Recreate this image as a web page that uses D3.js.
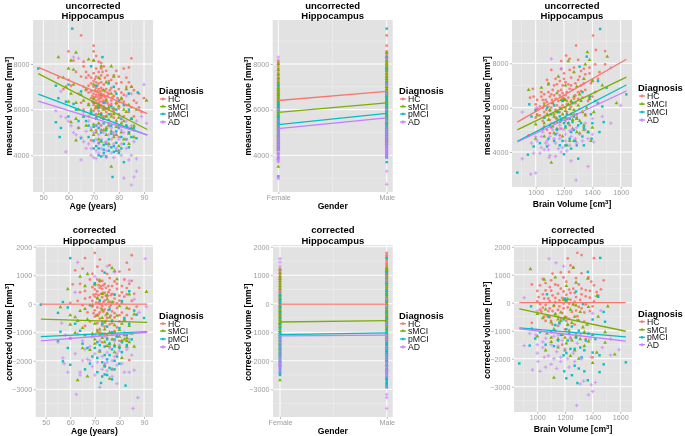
<!DOCTYPE html>
<html><head><meta charset="utf-8">
<script src="https://cdnjs.cloudflare.com/ajax/libs/d3/7.8.5/d3.min.js"></script>
<style>html,body{margin:0;padding:0;background:#fff}svg{display:block;font-family:"Liberation Sans",Arial,sans-serif;filter:blur(0.3px)}</style>
</head><body><svg id="c" width="685" height="436"></svg>
<script>
const groups=["HC","sMCI","pMCI","AD"];
const colors=["#F8766D","#7CAE00","#00BFC4","#C77CFF"];
const genders=["Female","Male"];

// age vs measured volume
const ageMeasuredHC=[[65,9250],[70,8800],[60,8550],[70,8550],[71,8350],[85,8250],[62,8150],[66,8100],[70,8150],[72,8100],[73,8050],[66,7900],[74,7900],[71,7800],[73,7800],[75,7700],[72,7650],[79,7700],[82,7800],[84,7850],[65,7450],[67,7400],[69,7400],[71,7450],[73,7500],[80,7450],[83,7400],[70,7250],[71,7200],[72,7150],[73,7200],[74,7100],[76,7250],[79,7150],[84,7200],[56,7400],[60,7300],[66,7000],[68,7050],[70,7000],[71,6950],[72,6900],[73,6950],[75,6900],[77,6950],[80,6900],[85,7000],[64,6700],[68,6750],[70,6700],[71,6650],[72,6650],[73,6700],[74,6650],[76,6700],[78,6600],[82,6650],[84,6700],[88,6700],[69,6500],[70,6450],[71,6400],[72,6450],[73,6500],[74,6400],[75,6450],[77,6400],[81,6450],[86,6400],[90,6500],[68,6250],[70,6200],[71,6150],[72,6250],[73,6200],[74,6150],[76,6200],[79,6250],[83,6200],[87,6300],[70,5950],[72,5950],[73,5850],[75,5900],[78,5950],[84,5900],[74,5700],[78,5650],[82,5700],[76,5400],[80,5300],[64,5200],[71,5100],[78,4900],[80,4800],[84,5000],[69,4650],[73,5300],
[67,7650],[68,7500],[69,7150],[70,7600],[70.5,7350],[71.5,7050],[72.5,7350],[73.5,7650],[74.5,7400],[75.5,7500],[77,7300],[78,7500],[81,7200],[83,7000],[67,6850],[69,6800],[70.5,6850],[71.5,6800],[72.5,6800],[73.5,6850],[74.5,6800],[75.5,6750],[76.5,6850],[78.5,6800],[81,6750],[86,6850],[69.5,6600],[70.5,6550],[71.5,6550],[72.5,6550],[73.5,6600],[74.5,6550],[75.5,6600],[77.5,6550],[79.5,6500],[69.5,6350],[70.5,6300],[71.5,6300],[72.5,6350],[73.5,6350],[74.5,6300],[75.5,6300],[77,6250],[80,6350],[82,6350],[70.5,6050],[71.5,6050],[72.5,6100],[73.5,6050],[74.5,6050],[76,6000],[77.5,6050],[80,6050],[85,6100],[71,5800],[73,5650],[75,5700],[77,5800],[80,5800],[86,5700],[68,5700],[66,6000],[63,7650],[61,7050],[58,6900],[65,6300],[88,6100],[89,5900]];
const ageMeasuredsMCI=[[56,8300],[63,8500],[61,8150],[60,7800],[62,7750],[68,8200],[70,8150],[73,7900],[77,7900],[58,7400],[59,7000],[62,7100],[61,6700],[65,6650],[67,6900],[70,7100],[72,7400],[75,7200],[78,7450],[83,6900],[85,7000],[91,6400],[60,6350],[63,6300],[70,6500],[72,6200],[74,6000],[75,6400],[77,6700],[79,6300],[81,6500],[84,6200],[87,6000],[61,5450],[63,5600],[66,5700],[69,5800],[71,5650],[73,5750],[75,5700],[76,5550],[78,5800],[80,5650],[82,5500],[85,5600],[86,5300],[64,5200],[72,5400],[74,5100],[76,5300],[79,5250],[81,5000],[84,4950],[86,4800],[63,4650],[70,4900],[73,4600],[75,4900],[78,4800],[80,4400],[84,4500],[80,4200],[77,3500],
[66,6400],[68,6200],[69,6000],[71,6100],[73,6650],[74,6850],[76,6100],[78,6050],[80,6150],[82,6000],[83,5900],[70,5350],[72,5800],[74,5600],[77,5700],[79,5500],[81,5400],[83,5300],[85,5200],[71,5000],[73,5100],[75,5200],[77,5050],[79,4900],[82,4700],[64,6000],[67,5300],[69,5100],[72,4700],[76,4500]];
const ageMeasuredpMCI=[[61.5,9550],[48,7800],[73.5,8300],[69,7900],[60,7100],[55,7050],[65,6800],[71,7050],[59,6350],[62,6250],[56,6500],[76,7150],[78,7000],[79,6700],[84,6700],[87.5,6750],[63,6000],[66,5700],[69,5900],[71,5600],[73,5800],[76,5800],[79,6000],[81,5600],[85,5600],[55,5450],[60,5700],[57,5200],[64,5500],[68,5300],[70,5250],[72,5200],[74,5400],[77,5300],[80,5200],[83,5300],[86,5200],[56.5,4800],[65,4750],[68,4800],[70,4650],[71,4400],[72,4300],[73,4650],[74,4100],[75,4500],[76,4200],[78,4400],[79,4550],[80,4100],[81,4300],[83,4700],[85,4800],[87,4750],[72,4000],[73,3950],[75,3950],[78,4150],[82,3700],[77.5,3050],
[70,6300],[72,6100],[74,6300],[75,6050],[77,6150],[80,6400],[82,6200],[84,6000],[67,5500],[71,5300],[73,5000],[75,5100],[77,4950],[79,5050],[81,4800],[84,5000],[70,4300],[72,4550],[74,4450],[76,4700],[77,4350],[79,4200],[82,4500],[84,4350],[74,4250]];
const ageMeasuredAD=[[64,8250],[62,8300],[57,6800],[55,5950],[57,5700],[59,5650],[60,5500],[61,5300],[59,4150],[62,5000],[63,4900],[64,5200],[65,4800],[65,3800],[66,4600],[67,4300],[68,4500],[69,4300],[69,4000],[70,5000],[70,4600],[70,3900],[71,4200],[71,5300],[71,3850],[72,4900],[72,4500],[72,4100],[73,5100],[73,4700],[73,4300],[74,4000],[74,5400],[75,4600],[75,4200],[75,3900],[76,4900],[76,5300],[76,4400],[77,4100],[77,4700],[78,4500],[78,5000],[78,3900],[79,4300],[79,4900],[80,4200],[80,4700],[80,5200],[81,4000],[81,4500],[82,3000],[82,5000],[83,4300],[83,4700],[84,3800],[84,5200],[85,4000],[85,2700],[86,3050],[86,4600],[87,3850],[87,3300],[87,5500],[89,5700],[90,7100],[91,5400],[75,6300],[78,6000],[83,6600],[85,6700],[88,6000],[66,5900],[70,5800],[81,5600],[68,5500],
[74,5000],[74.5,4550],[72.5,5350],[77,5200],[79,5400],[81,5100],[83,5500],[85,5300],[86,5100],[71,4700],[69,5200],[67,5050]];

// age vs corrected volume
const ageCorrectedHC=[[70,1780],[85,1700],[66,1600],[72,1550],[76,1350],[83,1440],[62,1170],[65,1230],[71,1300],[73,1150],[69,1050],[75,1050],[80,1130],[84,1200],[61,680],[68,850],[71,850],[72,780],[73,800],[74,700],[76,900],[78,780],[82,850],[85,800],[60,30],[64,400],[66,450],[69,580],[70,500],[71,440],[72,560],[73,520],[74,380],[76,480],[77,350],[79,520],[81,400],[83,550],[88,560],[63,100],[66,180],[68,220],[69,100],[70,250],[71,180],[72,80],[73,230],[74,110],[75,250],[76,70],[78,180],[80,110],[82,250],[85,100],[69,-100],[70,-230],[71,-130],[72,-300],[73,-80],[74,-200],[75,-350],[76,-110],[77,-270],[79,-150],[81,-310],[84,-180],[87,-100],[70,-450],[72,-520],[73,-620],[75,-500],[77,-680],[78,-480],[82,-600],[68,-620],[66,-780],[74,-800],[79,-830],[85,-520],[72,-1000],[75,-1200],[77,-1080],[73,-1350],[80,-1300],[84,-1980],[76,-1500],
[70,650],[71.5,650],[72.5,620],[73.5,640],[74.5,560],[75.5,620],[77,620],[79,700],[81,620],[84,700],[69.5,320],[70.5,350],[71.5,300],[72.5,350],[73.5,380],[74.5,280],[75.5,400],[76.5,300],[78,320],[80,280],[83,330],[70.5,40],[71.5,20],[72.5,-20],[73.5,50],[74.5,-30],[75.5,50],[76.5,-40],[77.5,60],[79,10],[81,20],[69.5,-330],[70.5,-400],[71.5,-370],[72.5,-160],[73.5,-280],[74.5,-410],[75.5,-220],[76.5,-420],[78,-330],[80,-400],[83,-400],[71,-680],[73,-760],[74.5,-600],[76,-720],[80,-620],[71,-920],[74,-1050],[78,-960],[67,-300],[65,-50],[86,350],[64,700]];
const ageCorrectedsMCI=[[59,510],[64,950],[66,620],[67,1040],[70,700],[72,820],[77,1250],[78,1150],[79,860],[84,330],[91,420],[56,-120],[60,-400],[62,-470],[64,-250],[66,-180],[69,-50],[71,200],[73,-220],[75,300],[77,50],[80,-80],[83,-150],[86,-370],[60,-730],[63,-600],[65,-850],[67,-550],[70,-700],[72,-900],[74,-650],[76,-480],[78,-750],[80,-920],[82,-560],[84,-780],[62,-1020],[66,-1100],[69,-1050],[71,-980],[73,-1200],[75,-1080],[77,-1250],[79,-1130],[81,-1300],[83,-1200],[85,-1050],[86,-1500],[65,-1560],[68,-1620],[70,-1400],[72,-1680],[75,-1480],[78,-1700],[81,-1900],[74,-2150],[77,-2300],[76,-2630],[63,-2680],[67,-2550],
[71,-420],[73,-500],[75,-350],[77,-600],[79,-420],[81,-700],[74,-900],[76,-1000],[78,-1000],[80,-1150],[82,-1250],[84,-1350],[70,-1250],[72,-1100],[74,-1350],[76,-1400],[78,-1450],[80,-1500],[83,-1500],[82,-1100],[83,-1300],[75,150],[73,350]];
const ageCorrectedpMCI=[[60,1600],[48,-30],[55,-320],[57,60],[59,-130],[56,-980],[62,-700],[64,-950],[74,1090],[70,720],[78,320],[84,440],[86,-240],[68,-50],[72,120],[76,-200],[81,90],[87,-380],[90,-500],[55,-1300],[59,-1550],[57,-2020],[60,-1220],[60,-2140],[65,-1400],[67,-1550],[69,-1150],[71,-1350],[73,-1050],[75,-1250],[77,-1000],[79,-1150],[81,-1350],[83,-1100],[85,-1250],[69,-1850],[71,-1900],[72,-1650],[73,-2050],[74,-1800],[75,-1950],[77,-1600],[79,-1850],[81,-1700],[71,-2400],[73,-2550],[74,-2480],[76,-2250],[78,-2000],[80,-2100],[72.5,-2780],[77,-2650],[82.5,-2870],[66,-2300],[68,-2100],
[73,-700],[75,-800],[77,-600],[80,-850],[82,-500],[84,-700],[70,-1550],[72,-1450],[74,-1500],[76,-1400],[78,-1500],[80,-1550],[83,-1450],[76,-1800],[78,-2300],[75,-2500],[74,-2200],[78,-1250]];
const ageCorrectedAD=[[63,1450],[90.5,1580],[75,1310],[62,400],[70,950],[78,1100],[84,800],[88,-300],[91,-100],[86,150],[56.5,-680],[55,-1350],[58,-1100],[60,-1200],[63,-1050],[65,-1300],[68,-1500],[70,-1100],[72,-1300],[74,-1150],[57,-1900],[57.5,-2100],[59,-2400],[62,-1750],[65,-2000],[67,-1950],[69,-2200],[71,-2050],[73,-1850],[75,-1700],[77,-2000],[79,-1750],[81,-2100],[83,-1600],[85,-1800],[64,-2400],[64,-2500],[70,-2500],[72,-2930],[75,-2350],[77,-2550],[79,-2800],[82,-2400],[84,-2400],[86,-2330],[62.5,-3180],[87.5,-3290],[85.5,-3670],[78,-1300],[80,-1450],[82,-1000],[84,-1250],
[72,-1650],[74,-2100],[76,-1550],[78,-1850],[80,-1650],[73,-2300],[75,-2050],[77,-2300],[79,-2150],[70,-1750],[68,-2000],[66,-1600]];

// brain volume vs measured volume
const brainMeasuredHC=[[1405,9250],[1285,8800],[1425,8600],[1490,8550],[1215,8350],[1240,8200],[1180,8100],[1300,8150],[1420,7950],[1380,7800],[1490,7950],[1270,7800],[1110,7700],[1180,7750],[1240,7700],[1320,7650],[1450,7600],[1080,7250],[1140,7300],[1200,7300],[1250,7350],[1310,7400],[1350,7500],[1400,7250],[1090,7100],[1150,7050],[1190,7000],[1230,7050],[1280,7100],[1320,7000],[1390,7100],[980,6850],[1040,6700],[1090,6700],[1120,6800],[1160,6750],[1190,6650],[1220,6700],[1260,6800],[1300,6700],[1350,6800],[1420,6700],[960,6450],[1040,6500],[1070,6350],[1100,6500],[1140,6400],[1170,6550],[1200,6350],[1230,6450],[1270,6400],[1330,6450],[1000,6150],[1030,6050],[1060,6200],[1090,6050],[1120,6200],[1150,6100],[1190,6100],[1220,6150],[1280,6200],[1370,6300],[1000,5850],[1030,5650],[1060,5800],[1100,5850],[1130,5700],[1170,5800],[1220,5800],[1270,5700],[1000,5550],[1050,5400],[1100,5450],[1140,5550],[1210,5400],[1060,5150],[1110,5100],[1180,5050],[1240,5200],[950,4750],[1100,4850],[1170,4750],
[1130,7000],[1170,7200],[1210,7150],[1250,7000],[1300,7250],[1340,7100],[1380,7550],[1060,6600],[1110,6600],[1130,6550],[1180,6800],[1210,6550],[1240,6850],[1280,6550],[1320,6750],[1380,6500],[1010,6350],[1050,6350],[1080,6250],[1115,6350],[1160,6300],[1190,6450],[1220,6300],[1250,6250],[1300,6400],[1400,6500],[1015,5950],[1050,6000],[1075,5900],[1110,6000],[1140,5900],[1170,6000],[1210,6000],[1250,6050],[1310,5950],[1060,5550],[1090,5650],[1150,5350],[1190,5500],[1290,5550],[1350,5700],[985,6500],[1010,5700],[1200,7550],[1340,7750],[1440,7300],[1080,5000],[1130,5300]];
const brainMeasuredsMCI=[[950,6800],[1365,8500],[1505,8300],[1380,8150],[1230,8100],[1350,7950],[1270,7600],[1160,7400],[1040,6900],[1090,7050],[1210,7000],[1290,6950],[1340,7300],[1400,7200],[1470,7000],[1150,6650],[1200,6400],[1250,6300],[1310,6600],[1380,6400],[1440,6200],[1570,6200],[1060,6100],[1120,6200],[1180,5950],[1240,5950],[1300,6100],[1360,6000],[1010,5650],[1080,5700],[1130,5600],[1190,5700],[1250,5700],[1290,5500],[1350,5650],[1410,5800],[1000,5250],[1060,5300],[1120,5150],[1170,5350],[1230,5300],[1290,5500],[1340,5000],[1400,5100],[1000,4600],[1060,4700],[1130,4850],[1190,4700],[1290,4900],[1340,5200],[1390,4500],[1110,3520],[1220,4300],[1280,4500],
[1180,6350],[1190,6300],[1210,6350],[1230,6150],[1270,6500],[1320,6300],[1100,5900],[1150,5800],[1210,5850],[1270,5900],[1330,5800],[1090,5450],[1150,5500],[1210,5550],[1260,5450],[1310,5400],[1150,5050],[1210,5100],[1260,5050],[1310,4850],[1370,4900],[1240,4500]];
const brainMeasuredpMCI=[[1455,9550],[1360,8300],[1310,7850],[1440,7200],[1500,6900],[1640,6600],[955,6150],[970,5600],[1000,5900],[1080,6000],[1130,6100],[1190,6300],[1260,6200],[1330,6700],[1380,6500],[1420,6300],[1470,6050],[1060,5550],[1110,5700],[1160,5800],[1220,5500],[1270,5600],[1320,5300],[1390,5700],[1480,5350],[1050,5050],[1100,5200],[1150,5000],[1200,5300],[1250,4900],[1300,5200],[1370,4900],[1450,4900],[1030,4400],[1090,4600],[1140,4800],[1190,4500],[1240,4600],[1290,4300],[1340,4300],[1395,4600],[945,3880],[985,4250],[1080,4250],[1170,4300],[1200,3900],[1250,4150],[1300,3700],[870,3070],
[1170,5600],[1220,5700],[1230,5300],[1240,5500],[1260,5350],[1290,5700],[1180,5450],[1210,5150],[1270,5000],[1340,5100],[1400,5300],[1130,4500],[1210,4300],[1270,4500],[1330,4700]];
const brainMeasuredAD=[[1110,8200],[1180,7750],[1530,7800],[905,5800],[1005,6000],[1600,6100],[1530,5300],[1470,5600],[1400,5500],[1440,6200],[1060,5600],[1110,5300],[1170,5200],[1230,5500],[1290,5100],[1350,5300],[1050,4900],[1100,4700],[1150,4850],[1200,5000],[1250,4700],[1310,4800],[1370,4600],[1410,4450],[970,4400],[1010,4500],[1040,4200],[1090,4300],[1140,4400],[1190,4200],[1240,4300],[1290,4400],[985,3950],[1030,3950],[1060,4100],[1100,3850],[1140,3800],[1180,4000],[1250,3600],[905,3700],[1095,3750],[1370,3350],[1000,3050],[965,3000],[1285,2730],
[1130,4600],[1170,4600],[1210,4500],[1260,5000],[1280,4600],[1330,4500],[1120,5000],[1070,4400],[1080,4500],[1170,5050],[1240,4950],[1210,4800],[1350,5000],[1400,4800],[1040,4700],[1000,4700],[1090,4100],[1160,4150],[1220,4050]];

// brain volume vs corrected volume
const brainCorrectedHC=[[1290,1780],[1320,1700],[1410,1590],[1220,1580],[1240,1330],[1260,1250],[960,650],[1040,850],[1110,1040],[1170,1080],[1230,1100],[1320,1050],[1370,900],[1480,800],[1000,420],[1020,620],[1060,700],[1090,560],[1130,650],[1170,500],[1210,750],[1260,500],[1300,650],[1350,450],[1410,620],[1460,480],[1010,200],[1040,300],[1080,150],[1110,260],[1150,320],[1180,170],[1210,280],[1240,110],[1280,200],[1320,300],[1380,180],[1440,260],[1020,-50],[1060,-80],[1090,-200],[1130,20],[1160,-130],[1190,-30],[1220,-170],[1260,-60],[1300,-150],[1350,-60],[1400,-130],[1030,-320],[1070,-450],[1110,-300],[1150,-500],[1180,-370],[1210,-520],[1250,-330],[1290,-480],[1340,-350],[960,-720],[1060,-650],[1110,-780],[1160,-700],[1210,-650],[1270,-780],[1340,-680],[1130,-1000],[1200,-950],[1280,-1100],[1350,-1300],[1240,-1250],[1400,-1950],[1180,-1500],
[1060,440],[1100,430],[1150,620],[1190,400],[1230,470],[1270,350],[1320,500],[1380,420],[1430,380],[1050,150],[1090,60],[1130,170],[1160,80],[1200,90],[1240,350],[1270,30],[1310,100],[1350,230],[1410,50],[1040,-180],[1080,-300],[1120,-120],[1150,-260],[1190,-200],[1230,-30],[1280,-280],[1320,-200],[1380,-300],[1050,-500],[1090,-520],[1130,-430],[1170,-560],[1230,-580],[1290,-620],[1100,-650],[1150,-830],[1220,-800],[1020,-250],[1000,50],[1100,800],[1190,900],[1280,880],[1390,750]];
const brainCorrectedsMCI=[[950,1200],[1260,1250],[1365,860],[1050,820],[1130,900],[1210,600],[1280,720],[1430,240],[1510,-130],[1000,-400],[1060,-240],[1120,-100],[1170,-350],[1220,130],[1260,-60],[1310,-330],[1370,-150],[1040,-550],[1100,-700],[1150,-600],[1200,-510],[1250,-720],[1300,-640],[1360,-780],[1440,-500],[1000,-1200],[1070,-1100],[1120,-950],[1180,-1150],[1230,-1000],[1280,-1200],[1340,-1050],[1400,-1150],[1490,-1050],[1060,-1700],[1100,-1400],[1150,-1600],[1210,-1450],[1270,-1700],[1340,-1550],[1430,-1780],[1490,-1430],[1560,-1850],[1120,-2680],[1400,-2150],[1300,-2000],[1240,-1900],
[1190,100],[1210,50],[1240,-250],[1280,-100],[1130,-400],[1170,-650],[1220,-780],[1270,-500],[1330,-880],[1100,-1250],[1150,-1300],[1200,-1250],[1250,-1350],[1310,-1300],[1370,-1380],[1200,-1700]];
const brainCorrectedpMCI=[[1455,1600],[1365,1100],[1070,300],[1200,150],[1280,400],[1330,-50],[1440,210],[955,-130],[1480,-330],[1080,-500],[1160,-740],[1250,-850],[1400,-600],[1490,-680],[960,-930],[985,-1280],[1020,-1050],[1100,-1050],[1170,-1150],[1230,-1100],[1300,-1000],[1370,-1100],[945,-1530],[1060,-1500],[1120,-1550],[1190,-1880],[1270,-1650],[1340,-1700],[1400,-1780],[1450,-1880],[870,-2170],[1640,-2130],[1195,-2450],[1210,-2700],[1250,-2590],[1270,-2250],[1300,-2350],[1290,-2870],[1340,-2450],[1365,-2770],[1450,-2480],[1480,-2200],[1320,-1950],
[1210,100],[1190,-600],[1130,-800],[1210,-950],[1150,-1350],[1220,-1350],[1280,-1250],[1210,-1800],[1240,-1650],[1350,-1350],[1420,-1300],[1310,-1600]];
const brainCorrectedAD=[[1085,1570],[1135,1430],[1190,1300],[905,180],[1000,-300],[1400,-380],[1460,-280],[1530,-1300],[1590,-1680],[1530,-1870],[1470,-1600],[905,-1530],[945,-1100],[990,-1150],[1060,-1270],[1120,-1200],[1180,-1350],[1240,-1280],[1310,-1150],[1380,-1300],[1000,-1800],[1040,-1600],[1080,-1900],[1140,-1750],[1200,-1650],[1260,-1800],[1320,-2000],[1390,-1950],[965,-2400],[1005,-2100],[1020,-2450],[1060,-2300],[1100,-2200],[1140,-2350],[1170,-2100],[1230,-2300],[1270,-2100],[1335,-2800],[1370,-3290],[1400,-3170],[1285,-3670],[1390,-2930],[1420,-2850],[1310,-2900],
[1100,-1500],[1150,-1550],[1050,-1950],[1120,-2000],[1170,-1950],[1220,-2000],[1040,-1400],[1290,-1450],[1000,-1500],[1150,-1150]];

// gender strips
const genderMeasuredHC={Female:[8150,8080,8000,7900,7800,7700,7600,7500,7400,7350,7300,7250,7200,7120,7050,6980,6900,6830,6750,6680,6600,6520,6450,6380,6300,6200,6100,6000,5900,5700,5500],Male:[9250,8800,8550,8480,8400,8330,8250,8180,8100,8030,7950,7880,7800,7720,7650,7580,7500,7420,7350,7280,7200,7120,7050,6980,6900,6820,6750,6680,6600,6520,6450,6380,6300,6200,6100,6000,5900,5750,5600,5400,5200]};
const genderMeasuredsMCI={Female:[8000,7750,7550,7380,7200,7080,6950,6880,6800,6720,6650,6580,6500,6420,6350,6280,6200,6120,6050,5980,5900,5820,5750,5680,5600,5520,5450,5380,5300,5220,5150,5080,5000,4920,4850,4780,4700,4620,4550,4480,4400,4320,4250,3500],Male:[8500,8300,8150,8020,7900,7800,7700,7580,7450,7350,7250,7120,7000,6900,6800,6700,6600,6500,6400,6320,6250,6180,6100,6020,5950,5880,5800,5720,5650,5580,5500,5420,5350,5280,5200,5120,5050,4980,4900,4820,4750,4680,4600,4500]};
const genderMeasuredpMCI={Female:[7050,6350,6220,6100,5980,5850,5720,5600,5500,5400,5300,5200,5120,5050,4980,4900,4820,4750,4680,4600,4520,4450,4400,4350,4300,4250,4080,3900,3080],Male:[9550,8300,7800,7150,6750,6620,6500,6380,6250,6120,6000,5880,5750,5620,5500,5380,5250,5150,5050,4950,4850,4780,4700,4620,4550,4480,4400,4350,4300,4220,4150,4080,4000,3950,3900,3700]};
const genderMeasuredAD={Female:[8300,6000,5500,5300,5100,5000,4900,4800,4700,4620,4550,4480,4400,4320,4250,4180,4100,4050,4000,3920,3850,3820,3800,3750,3700,3050,2980],Male:[8250,7100,6700,6000,5500,5200,5100,5000,4900,4800,4700,4600,4520,4450,4380,4300,4250,4200,4120,4050,3980,3900,3300,2730]};
const genderCorrectedHC={Female:[1220,1150,1100,1020,950,900,850,770,700,620,550,470,400,320,250,170,100,20,-50,-120,-200,-270,-350,-420,-500,-570,-650,-720,-800],Male:[1780,1700,1650,1600,1520,1440,1400,1350,1290,1230,1170,1100,1020,950,870,800,720,650,570,500,420,350,270,200,120,50,-20,-100,-170,-250,-320,-400,-470,-550,-620,-700,-800,-900,-1050,-1200,-1980]};
const genderCorrectedsMCI={Female:[1200,1070,950,870,800,710,620,520,420,330,250,170,100,20,-50,-120,-200,-270,-350,-420,-500,-570,-650,-720,-800,-870,-950,-1020,-1100,-1170,-1250,-1320,-1400,-1470,-1550,-1620,-1700,-1770,-1850,-2000,-2150,-2680],Male:[1250,1200,1150,1090,1040,970,900,820,750,670,600,520,450,370,300,220,150,70,0,-70,-150,-220,-300,-370,-450,-520,-600,-670,-750,-820,-900,-970,-1050,-1120,-1200,-1270,-1350,-1420,-1500,-1570,-1650,-1720,-1800,-1900,-2000,-2150,-2300,-2630]};
const genderCorrectedpMCI={Female:[300,150,30,-130,-300,-500,-700,-850,-1000,-1050,-1100,-1150,-1200,-1300,-1400,-1470,-1550,-1620,-1700,-1770,-1850,-1930,-2020,-2080,-2140,-2200,-2250,-2320,-2400,-2450,-2500],Male:[1600,1100,720,440,320,90,-130,-300,-500,-700,-900,-1020,-1150,-1250,-1350,-1420,-1500,-1570,-1650,-1720,-1800,-1870,-1950,-2020,-2100,-2170,-2250,-2320,-2400,-2470,-2550,-2600,-2650,-2710,-2780,-2820,-2870,-2930]};
const genderCorrectedAD={Female:[1580,1450,1310,1200,400,-1100,-1200,-1300,-1400,-1500,-1600,-1700,-1800,-1900,-1970,-2050,-2090,-2130,-2170,-2200,-2270,-2350,-2400],Male:[1000,800,150,-100,-700,-1100,-1200,-1300,-1550,-1800,-1920,-2050,-2170,-2300,-2350,-2400,-2470,-2550,-2930,-3180,-3290,-3670]};

// fitted lines: [x0,y0,x1,y1]
const lineAgeMeasured=[[48,7850,91.3,5830],[48,7580,91.3,5130],[48,6680,91.3,4880],[48,6370,91.3,4900]];
const lineGenderMeasured=[[6400,6800],[5880,6300],[5340,5840],[5170,5640]];
const lineBrainMeasured=[[870,5350,1640,8180],[870,5000,1640,7380],[870,4480,1640,7020],[870,4450,1640,6750]];
const lineAgeCorrected=[[48,-10,91.3,-10],[48,-540,91.3,-650],[48,-1150,91.3,-980],[48,-1300,91.3,-1000]];
const lineGenderCorrected=[[-10,-10],[-640,-590],[-1080,-1020],[-1130,-1100]];
const lineBrainCorrected=[[870,0,1640,0],[870,-220,1640,-1020],[870,-900,1640,-1220],[870,-930,1640,-1370]];

const yTicksMeasured=[4000,6000,8000], yMinorMeasured=[3000,5000,7000,9000];
const yTicksCorrected=[-3000,-2000,-1000,0,1000,2000], yMinorCorrected=[-3500,-2500,-1500,-500,500,1500];
const ageTicks=[50,60,70,80,90], ageMinor=[55,65,75,85];
const brainTicks=[1000,1200,1400,1600], brainMinor=[900,1100,1300,1500];

const T1="uncorrected", T2="corrected";
const panels=[
 {kind:"n",t:T1,ylab:"measured volume",xlab:"Age (years)",L:33,R:153,Top:20,B:192,xa:[50,90,43.3,144],ya:[4000,8000,155.3,64],yt:yTicksMeasured,ym:yMinorMeasured,xt:ageTicks,xm:ageMinor,
  pts:[ageMeasuredHC,ageMeasuredsMCI,ageMeasuredpMCI,ageMeasuredAD],lines:lineAgeMeasured,yx:9,yc:106,ty:[8.5,18.5],xy:209,lx:159,ly:93.5,keys:[99,106.5,114,122]},
 {kind:"g",t:T1,ylab:"measured volume",xlab:"Gender",L:272.7,R:392.7,Top:20,B:192,xp:[278.3,386.7],ya:[4000,8000,155.3,64],yt:yTicksMeasured,ym:yMinorMeasured,
  strips:[genderMeasuredHC,genderMeasuredsMCI,genderMeasuredpMCI,genderMeasuredAD],lines:lineGenderMeasured,yx:248,yc:106,ty:[8.5,18.5],xy:209,lx:399,ly:93.5,keys:[99,106.5,114,122]},
 {kind:"n",t:T1,ylab:"measured volume",xlab:"Brain Volume",sup:true,L:512,R:632,Top:20,B:187,xa:[1000,1600,535.7,620.7],ya:[4000,8000,152,63.3],yt:yTicksMeasured,ym:yMinorMeasured,xt:brainTicks,xm:brainMinor,
  pts:[brainMeasuredHC,brainMeasuredsMCI,brainMeasuredpMCI,brainMeasuredAD],lines:lineBrainMeasured,yx:487,yc:105.5,ty:[8.5,18.5],xy:207,lx:638,ly:91,keys:[96,104,112,120]},
 {kind:"n",t:T2,ylab:"corrected volume",xlab:"Age (years)",L:35.7,R:153,Top:245,B:417,xa:[50,90,45.7,144],ya:[-3000,2000,389.3,246.7],yt:yTicksCorrected,ym:yMinorCorrected,xt:ageTicks,xm:ageMinor,
  pts:[ageCorrectedHC,ageCorrectedsMCI,ageCorrectedpMCI,ageCorrectedAD],lines:lineAgeCorrected,yx:9,yc:332,ty:[233,243.5],xy:434,lx:159,ly:318.5,keys:[323.7,331,339,347]},
 {kind:"g",t:T2,ylab:"corrected volume",xlab:"Gender",L:273,R:392.7,Top:245,B:417,xp:[280,386.7],ya:[-3000,2000,389.3,246.7],yt:yTicksCorrected,ym:yMinorCorrected,
  strips:[genderCorrectedHC,genderCorrectedsMCI,genderCorrectedpMCI,genderCorrectedAD],lines:lineGenderCorrected,yx:248,yc:332,ty:[233,243.5],xy:434,lx:399,ly:318.5,keys:[323.7,331,339,347]},
 {kind:"n",t:T2,ylab:"corrected volume",xlab:"Brain Volume",sup:true,L:514,R:632,Top:245,B:412,xa:[1000,1600,537.3,620.3],ya:[-3000,2000,386.7,246.7],yt:yTicksCorrected,ym:yMinorCorrected,xt:brainTicks,xm:brainMinor,
  pts:[brainCorrectedHC,brainCorrectedsMCI,brainCorrectedpMCI,brainCorrectedAD],lines:lineBrainCorrected,yx:487,yc:330,ty:[233,243.5],xy:432,lx:638,ly:316.5,keys:[321.7,329.7,337.3,344.7]}
];

const svg=d3.select("#c");
const symbolTypes=[d3.symbolCircle,d3.symbolTriangle,d3.symbolSquare,d3.symbolCross];
const symSize=[6,6.5,6,7];
const symAlpha=[.9,.95,.95,.65];
const sym=i=>d3.symbol().type(symbolTypes[i]).size(symSize[i])();

function mm3(sel,label,unit){
  sel.append("tspan").text(label+" ["+unit);
  sel.append("tspan").attr("dy",-3.5).attr("font-size",6).text("3");
  sel.append("tspan").attr("dy",3.5).text("]");
}
panels.forEach(p=>{
  const g=svg.append("g");
  const y=d3.scaleLinear().domain([p.ya[0],p.ya[1]]).range([p.ya[2],p.ya[3]]);
  const isG=p.kind==="g";
  const x=isG?d3.scalePoint().domain(genders).range(p.xp):d3.scaleLinear().domain([p.xa[0],p.xa[1]]).range([p.xa[2],p.xa[3]]);
  g.append("rect").attr("x",p.L).attr("y",p.Top).attr("width",p.R-p.L).attr("height",p.B-p.Top).attr("fill","#E2E2E2");
  p.ym.forEach(v=>g.append("line").attr("x1",p.L).attr("x2",p.R).attr("y1",y(v)).attr("y2",y(v)).attr("stroke","#EFEFEF").attr("stroke-width",.6));
  if(isG){g.append("line").attr("x1",(p.xp[0]+p.xp[1])/2).attr("x2",(p.xp[0]+p.xp[1])/2).attr("y1",p.Top).attr("y2",p.B).attr("stroke","#EFEFEF").attr("stroke-width",.6);}
  else p.xm.forEach(v=>g.append("line").attr("x1",x(v)).attr("x2",x(v)).attr("y1",p.Top).attr("y2",p.B).attr("stroke","#EFEFEF").attr("stroke-width",.6));
  p.yt.forEach(v=>g.append("line").attr("x1",p.L).attr("x2",p.R).attr("y1",y(v)).attr("y2",y(v)).attr("stroke","#fff").attr("stroke-width",1));
  (isG?genders:p.xt).forEach(v=>g.append("line").attr("x1",x(v)).attr("x2",x(v)).attr("y1",p.Top).attr("y2",p.B).attr("stroke","#fff").attr("stroke-width",1));
  const ax=g.append("g").attr("transform",`translate(0,${p.B})`).call((isG?d3.axisBottom(x):d3.axisBottom(x).tickValues(p.xt).tickFormat(d3.format("d"))).tickSize(2).tickPadding(0.5));
  const ay=g.append("g").attr("transform",`translate(${p.L},0)`).call(d3.axisLeft(y).tickValues(p.yt).tickFormat(d3.format("d")).tickSize(2).tickPadding(1.5));
  [ax,ay].forEach(a=>{a.select(".domain").remove();a.selectAll("line").attr("stroke","#8a8a8a").attr("stroke-width",.6);
    a.selectAll("text").attr("fill","#9b9b9b").attr("font-size",7.2).attr("font-family","'Liberation Sans',Arial,sans-serif");});
  groups.forEach((_,i)=>{
    const data=isG?genders.flatMap(k=>p.strips[i][k].map(v=>[k,v])):p.pts[i];
    g.append("g").selectAll("path").data(data).join("path")
      .attr("d",sym(i)).attr("fill",colors[i]).attr("fill-opacity",symAlpha[i])
      .attr("transform",d=>`translate(${x(d[0])},${y(d[1])})`);
  });
  groups.forEach((_,i)=>{
    const l=p.lines[i];
    const a=isG?[genders[0],l[0],genders[1],l[1]]:l;
    g.append("line").attr("x1",x(a[0])).attr("y1",y(a[1])).attr("x2",x(a[2])).attr("y2",y(a[3]))
      .attr("stroke",colors[i]).attr("stroke-width",1.3);
  });
  const cx=(p.L+p.R)/2;
  [p.t,"Hippocampus"].forEach((s,i)=>g.append("text").attr("x",cx).attr("y",p.ty[i]).attr("text-anchor","middle").attr("font-weight","bold").attr("font-size",9.5).attr("fill","#000").text(s));
  const xl=g.append("text").attr("x",cx).attr("y",p.xy).attr("text-anchor","middle").attr("font-weight","bold").attr("font-size",8.6).attr("fill","#000");
  if(p.sup)mm3(xl,p.xlab,"cm"); else xl.text(p.xlab);
  const yl=g.append("text").attr("transform",`translate(${p.yx+3},${p.yc}) rotate(-90)`).attr("text-anchor","middle").attr("font-weight","bold").attr("font-size",8.5).attr("fill","#000");
  mm3(yl,p.ylab,"mm");
  g.append("text").attr("x",p.lx).attr("y",p.ly).attr("font-weight","bold").attr("font-size",9.4).attr("fill","#000").text("Diagnosis");
  groups.forEach((s,i)=>{
    const ky=p.keys[i];
    g.append("line").attr("x1",p.lx+1).attr("x2",p.lx+7).attr("y1",ky).attr("y2",ky).attr("stroke",colors[i]).attr("stroke-width",1.2);
    g.append("path").attr("d",sym(i)).attr("fill",colors[i]).attr("fill-opacity",.9).attr("transform",`translate(${p.lx+4},${ky})`);
    g.append("text").attr("x",p.lx+9).attr("y",ky+3).attr("font-size",8.7).attr("fill","#111").text(s);
  });
});
</script></body></html>
